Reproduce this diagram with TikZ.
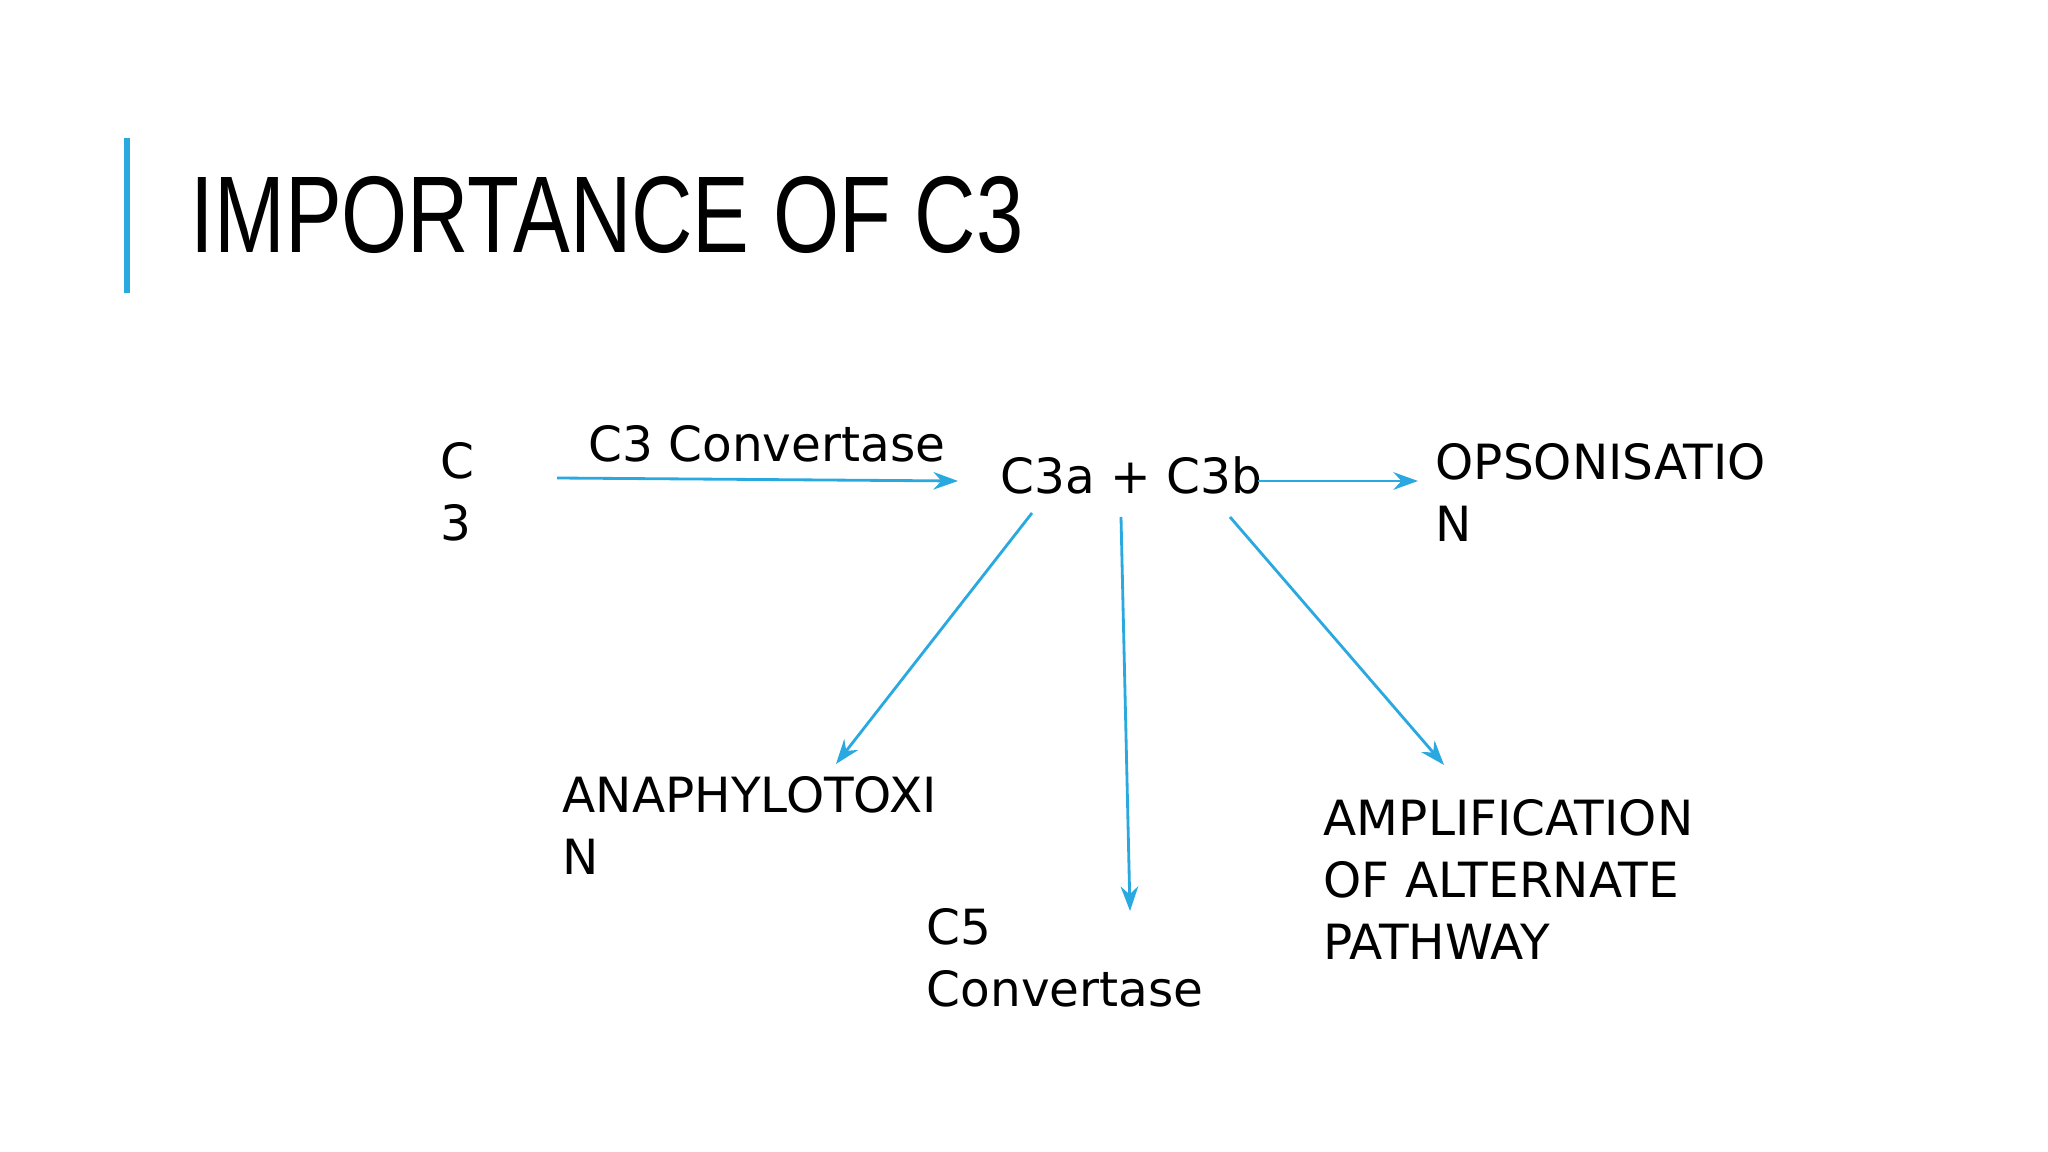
\documentclass[tikz,border=0pt]{standalone}
\usepackage{fontspec}
\setmainfont{DejaVu Sans}
\newfontfamily\titlefont{Liberation Sans}
\usetikzlibrary{arrows.meta}
\definecolor{accent}{HTML}{29A9E0}
\begin{document}
\begin{tikzpicture}[x=0.01cm,y=-0.01cm,
  lbl/.style={anchor=west,align=left,inner sep=0pt,font=\fontsize{13.8}{17.6}\selectfont},
  arr/.style={accent,line width=0.8pt,-{Stealth[length=7pt,width=5pt]}}]
\useasboundingbox (0,0) rectangle (2048,1152);
\fill[white] (0,0) rectangle (2048,1152);
\draw[accent,line width=1.5pt] (127,138) -- (127,293);
\node[anchor=base west,inner sep=0pt,xscale=0.78] (title) at (190,253)
  {\titlefont\fontsize{31}{36}\selectfont IMPORTANCE OF C3};
\node[lbl,anchor=north west] (c3) at (440,442) {C\\3};
\coordinate (a1s) at (557,478); \coordinate (a1e) at (958,481);
\draw[arr] (a1s) -- (a1e);
\node[lbl,anchor=center] (conv) at (767,444) {C3 Convertase};
\node[lbl] (c3ab) at (1000,475) {C3a + C3b};
\coordinate (a2s) at (1258,481); \coordinate (a2e) at (1418,481);
\draw[arr] (a2s) -- (a2e);
\node[lbl,anchor=north west] (ops) at (1435,443) {OPSONISATIO\\N};
\coordinate (a3s) at (1032,513); \coordinate (a3e) at (836,764);
\draw[arr] (a3s) -- (a3e);
\node[lbl,anchor=north west] (ana) at (562,776) {ANAPHYLOTOXI\\N};
\coordinate (a4s) at (1121,517); \coordinate (a4e) at (1130,911);
\draw[arr] (a4s) -- (a4e);
\node[lbl,anchor=north west] (c5) at (926,908) {C5\\Convertase};
\coordinate (a5s) at (1230,517); \coordinate (a5e) at (1444,765);
\draw[arr] (a5s) -- (a5e);
\node[lbl,anchor=north west] (amp) at (1323,799) {AMPLIFICATION\\OF ALTERNATE\\PATHWAY};
\end{tikzpicture}
\end{document}
